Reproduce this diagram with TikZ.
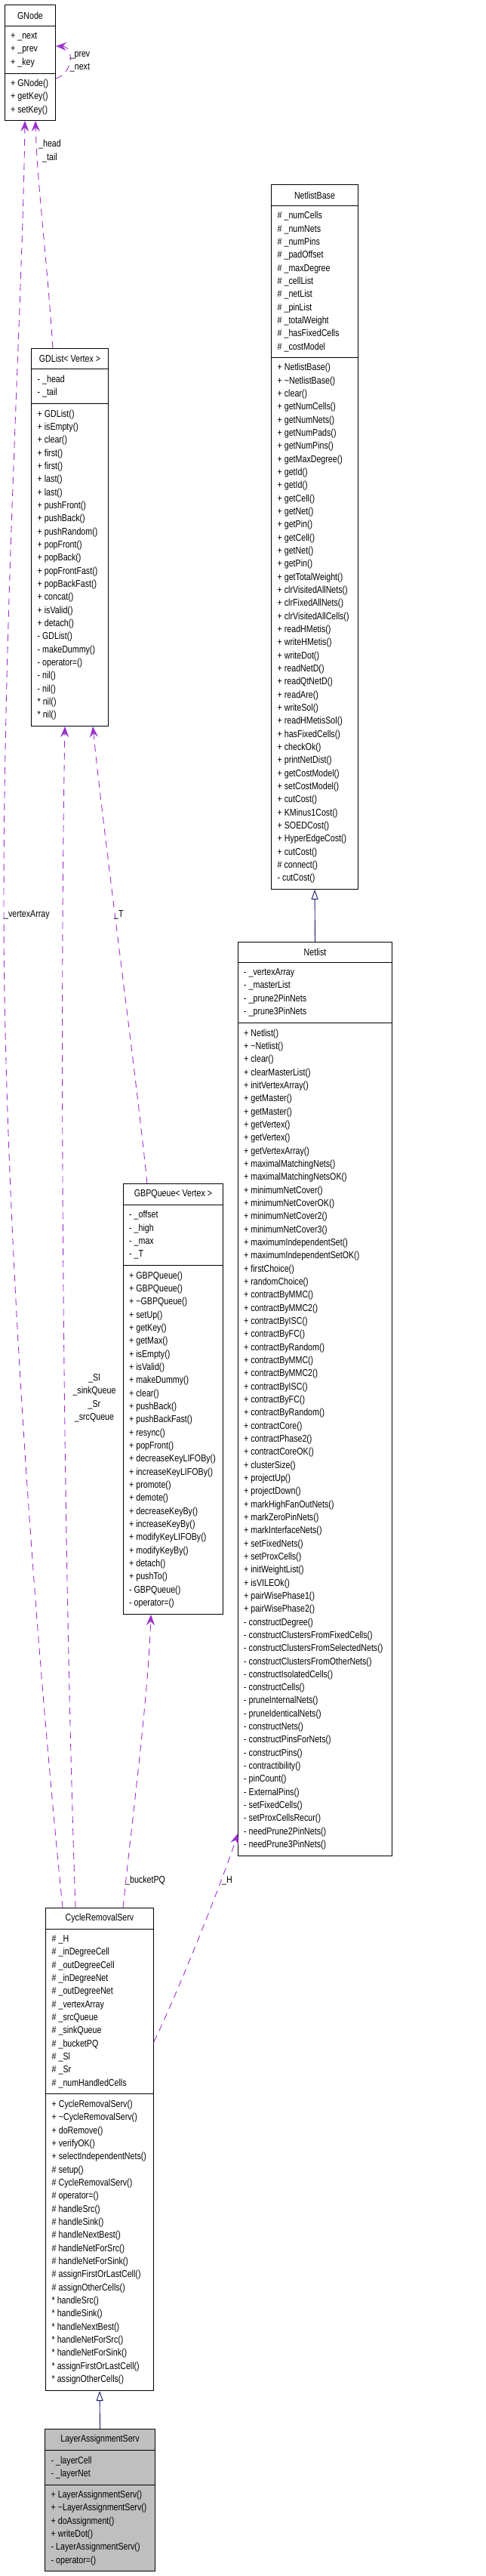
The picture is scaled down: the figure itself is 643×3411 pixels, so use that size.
\documentclass[tikz,border=0pt]{standalone}
\usepackage{fontspec}
\setmainfont{Liberation Sans}[FakeStretch=0.82]
\usetikzlibrary{arrows.meta}
\definecolor{depc}{HTML}{9A32CD}
\definecolor{inhc}{HTML}{191970}
\definecolor{lasfill}{HTML}{BFBFBF}
\newcommand\myfs{\fontsize{13}{17.33}\selectfont}
\tikzset{
  comp/.style={draw=black, line width=1pt, rectangle, inner sep=0pt, anchor=north west},
  txt/.style={inner sep=0pt, align=left, anchor=west, font=\myfs},
  hdr/.style={inner sep=0pt, align=center, anchor=center, font=\myfs},
  elab/.style={inner sep=0pt, align=center, font=\myfs},
  dep/.style={draw=depc, line width=0.9pt, dash pattern=on 9pt off 7pt, -{Stealth[length=14pt, width=11pt, inset=5pt]}},
  inh/.style={draw=inhc, line width=0.9pt, -{Triangle[open, length=13pt, width=9pt]}}
}
\begin{document}
\begin{tikzpicture}[x=1pt, y=-1pt]
\fill[white] (0,0) rectangle (643,3411);
\useasboundingbox (0,0) rectangle (643,3411);

% ---------- GNode ----------
\node[comp, minimum width=67pt, minimum height=28pt] (gn-h) at (6,6) {};
\node[comp, minimum width=67pt, minimum height=63pt] (gn-a) at (6,34) {};
\node[comp, minimum width=67pt, minimum height=62pt] (gn-m) at (6,97) {};
\node[hdr] (gn-ht) at (gn-h.center) {GNode};
\node[txt] (gn-at) at ([xshift=8pt]gn-a.west) {+ \_next\\+ \_prev\\+ \_key};
\node[txt] (gn-mt) at ([xshift=8pt]gn-m.west) {+ GNode()\\+ getKey()\\+ setKey()};

% ---------- GDList ----------
\node[comp, minimum width=102pt, minimum height=27pt] (gd-h) at (41,461) {};
\node[comp, minimum width=102pt, minimum height=46pt] (gd-a) at (41,488) {};
\node[comp, minimum width=102pt, minimum height=427pt] (gd-m) at (41,534) {};
\node[hdr] (gd-ht) at (gd-h.center) {GDList< Vertex >};
\node[txt] (gd-at) at ([xshift=8.5pt]gd-a.west) {- \_head\\- \_tail};
\node[txt] (gd-mt) at ([xshift=8.5pt]gd-m.west) {+ GDList()\\+ isEmpty()\\+ clear()\\+ first()\\+ first()\\+ last()\\+ last()\\+ pushFront()\\+ pushBack()\\+ pushRandom()\\+ popFront()\\+ popBack()\\+ popFrontFast()\\+ popBackFast()\\+ concat()\\+ isValid()\\+ detach()\\- GDList()\\- makeDummy()\\- operator=()\\- nil()\\- nil()\\* nil()\\* nil()};

% ---------- NetlistBase ----------
\node[comp, minimum width=115pt, minimum height=28pt] (nb-h) at (359,244) {};
\node[comp, minimum width=115pt, minimum height=201pt] (nb-a) at (359,272) {};
\node[comp, minimum width=115pt, minimum height=704pt] (nb-m) at (359,473) {};
\node[hdr] (nb-ht) at (nb-h.center) {NetlistBase};
\node[txt] (nb-at) at ([xshift=8.5pt]nb-a.west) {\# \_numCells\\\# \_numNets\\\# \_numPins\\\# \_padOffset\\\# \_maxDegree\\\# \_cellList\\\# \_netList\\\# \_pinList\\\# \_totalWeight\\\# \_hasFixedCells\\\# \_costModel};
\node[txt] (nb-mt) at ([xshift=8.5pt]nb-m.west) {+ NetlistBase()\\+ \textasciitilde NetlistBase()\\+ clear()\\+ getNumCells()\\+ getNumNets()\\+ getNumPads()\\+ getNumPins()\\+ getMaxDegree()\\+ getId()\\+ getId()\\+ getCell()\\+ getNet()\\+ getPin()\\+ getCell()\\+ getNet()\\+ getPin()\\+ getTotalWeight()\\+ clrVisitedAllNets()\\+ clrFixedAllNets()\\+ clrVisitedAllCells()\\+ readHMetis()\\+ writeHMetis()\\+ writeDot()\\+ readNetD()\\+ readQtNetD()\\+ readAre()\\+ writeSol()\\+ readHMetisSol()\\+ hasFixedCells()\\+ checkOk()\\+ printNetDist()\\+ getCostModel()\\+ setCostModel()\\+ cutCost()\\+ KMinus1Cost()\\+ SOEDCost()\\+ HyperEdgeCost()\\+ cutCost()\\\# connect()\\- cutCost()};

% ---------- Netlist ----------
\node[comp, minimum width=204pt, minimum height=27pt] (nl-h) at (315,1247) {};
\node[comp, minimum width=204pt, minimum height=80pt] (nl-a) at (315,1274) {};
\node[comp, minimum width=204pt, minimum height=1103pt] (nl-m) at (315,1354) {};
\node[hdr] (nl-ht) at (nl-h.center) {Netlist};
\node[txt] (nl-at) at ([xshift=8pt]nl-a.west) {- \_vertexArray\\- \_masterList\\- \_prune2PinNets\\- \_prune3PinNets};
\node[txt] (nl-mt) at ([xshift=8pt]nl-m.west) {+ Netlist()\\+ \textasciitilde Netlist()\\+ clear()\\+ clearMasterList()\\+ initVertexArray()\\+ getMaster()\\+ getMaster()\\+ getVertex()\\+ getVertex()\\+ getVertexArray()\\+ maximalMatchingNets()\\+ maximalMatchingNetsOK()\\+ minimumNetCover()\\+ minimumNetCoverOK()\\+ minimumNetCover2()\\+ minimumNetCover3()\\+ maximumIndependentSet()\\+ maximumIndependentSetOK()\\+ firstChoice()\\+ randomChoice()\\+ contractByMMC()\\+ contractByMMC2()\\+ contractByISC()\\+ contractByFC()\\+ contractByRandom()\\+ contractByMMC()\\+ contractByMMC2()\\+ contractByISC()\\+ contractByFC()\\+ contractByRandom()\\+ contractCore()\\+ contractPhase2()\\+ contractCoreOK()\\+ clusterSize()\\+ projectUp()\\+ projectDown()\\+ markHighFanOutNets()\\+ markZeroPinNets()\\+ markInterfaceNets()\\+ setFixedNets()\\+ setProxCells()\\+ initWeightList()\\+ isVILEOk()\\+ pairWisePhase1()\\+ pairWisePhase2()\\- constructDegree()\\- constructClustersFromFixedCells()\\- constructClustersFromSelectedNets()\\- constructClustersFromOtherNets()\\- constructIsolatedCells()\\- constructCells()\\- pruneInternalNets()\\- pruneIdenticalNets()\\- constructNets()\\- constructPinsForNets()\\- constructPins()\\- contractibility()\\- pinCount()\\- ExternalPins()\\- setFixedCells()\\- setProxCellsRecur()\\- needPrune2PinNets()\\- needPrune3PinNets()};

% ---------- GBPQueue ----------
\node[comp, minimum width=132pt, minimum height=28pt] (gq-h) at (163,1567) {};
\node[comp, minimum width=132pt, minimum height=80pt] (gq-a) at (163,1595) {};
\node[comp, minimum width=132pt, minimum height=462pt] (gq-m) at (163,1675) {};
\node[hdr] (gq-ht) at (gq-h.center) {GBPQueue< Vertex >};
\node[txt] (gq-at) at ([xshift=8pt]gq-a.west) {- \_offset\\- \_high\\- \_max\\- \_T};
\node[txt] (gq-mt) at ([xshift=8pt]gq-m.west) {+ GBPQueue()\\+ GBPQueue()\\+ \textasciitilde GBPQueue()\\+ setUp()\\+ getKey()\\+ getMax()\\+ isEmpty()\\+ isValid()\\+ makeDummy()\\+ clear()\\+ pushBack()\\+ pushBackFast()\\+ resync()\\+ popFront()\\+ decreaseKeyLIFOBy()\\+ increaseKeyLIFOBy()\\+ promote()\\+ demote()\\+ decreaseKeyBy()\\+ increaseKeyBy()\\+ modifyKeyLIFOBy()\\+ modifyKeyBy()\\+ detach()\\+ pushTo()\\- GBPQueue()\\- operator=()};

% ---------- CycleRemovalServ ----------
\node[comp, minimum width=143pt, minimum height=28pt] (cr-h) at (60,2526) {};
\node[comp, minimum width=143pt, minimum height=218pt] (cr-a) at (60,2554) {};
\node[comp, minimum width=143pt, minimum height=393pt] (cr-m) at (60,2772) {};
\node[hdr] (cr-ht) at (cr-h.center) {CycleRemovalServ};
\node[txt] (cr-at) at ([xshift=8.5pt]cr-a.west) {\# \_H\\\# \_inDegreeCell\\\# \_outDegreeCell\\\# \_inDegreeNet\\\# \_outDegreeNet\\\# \_vertexArray\\\# \_srcQueue\\\# \_sinkQueue\\\# \_bucketPQ\\\# \_Sl\\\# \_Sr\\\# \_numHandledCells};
\node[txt] (cr-mt) at ([xshift=8.5pt]cr-m.west) {+ CycleRemovalServ()\\+ \textasciitilde CycleRemovalServ()\\+ doRemove()\\+ verifyOK()\\+ selectIndependentNets()\\\# setup()\\\# CycleRemovalServ()\\\# operator=()\\\# handleSrc()\\\# handleSink()\\\# handleNextBest()\\\# handleNetForSrc()\\\# handleNetForSink()\\\# assignFirstOrLastCell()\\\# assignOtherCells()\\* handleSrc()\\* handleSink()\\* handleNextBest()\\* handleNetForSrc()\\* handleNetForSink()\\* assignFirstOrLastCell()\\* assignOtherCells()};

% ---------- LayerAssignmentServ ----------
\node[comp, fill=lasfill, minimum width=146pt, minimum height=28pt] (la-h) at (59,3216) {};
\node[comp, fill=lasfill, minimum width=146pt, minimum height=46pt] (la-a) at (59,3244) {};
\node[comp, fill=lasfill, minimum width=146pt, minimum height=114pt] (la-m) at (59,3290) {};
\node[hdr] (la-ht) at (la-h.center) {LayerAssignmentServ};
\node[txt] (la-at) at ([xshift=8.5pt]la-a.west) {- \_layerCell\\- \_layerNet};
\node[txt] (la-mt) at ([xshift=8.5pt]la-m.west) {+ LayerAssignmentServ()\\+ \textasciitilde LayerAssignmentServ()\\+ doAssignment()\\+ writeDot()\\- LayerAssignmentServ()\\- operator=()};

% ---------- connectors ----------
% GNode self loop
\draw[dep] ([yshift=-7pt]gn-m.north east) .. controls (97,97) and (99,62) .. ([yshift=5pt]gn-a.east);
\node[elab] (lab-pn) at (106,82) {\_prev\\\_next};

% GDList -> GNode
\draw[dep] ([xshift=29pt]gd-h.north west) .. controls (62,340) and (49,240) .. ([xshift=41pt]gn-m.south west);
\node[elab] (lab-ht) at (66,200) {\_head\\\_tail};

% CycleRemovalServ -> GNode
\coordinate (va) at (5,1200);
\draw[dep] ([xshift=23pt]cr-h.north west) .. controls (45,2150) and (5,1600) .. (va) .. controls (5,800) and (30,400) .. ([xshift=27pt]gn-m.south west);
\node[elab, anchor=west] (lab-va) at (5,1211) {\_vertexArray};

% CycleRemovalServ -> GDList
\draw[dep] ([xshift=40pt]cr-h.north west) .. controls (85,2100) and (78,1400) .. ([xshift=45pt]gd-m.south west);
\node[elab] (lab-q) at (125,1851) {\_Sl\\\_sinkQueue\\\_Sr\\\_srcQueue};

% GBPQueue -> GDList
\draw[dep] ([xshift=32pt]gq-h.north west) .. controls (180,1420) and (138,1110) .. ([xshift=82pt]gd-m.south west);
\node[elab, anchor=west] (lab-t) at (151,1211) {\_T};

% CycleRemovalServ -> GBPQueue
\draw[dep] ([xshift=103pt]cr-h.north west) .. controls (176,2400) and (196,2250) .. ([xshift=37pt]gq-m.south west);
\node[elab, anchor=west] (lab-bq) at (166,2490) {\_bucketPQ};

% CycleRemovalServ -> Netlist
\draw[dep] ([yshift=-40pt]cr-a.east) .. controls (235,2640) and (295,2490) .. ([yshift=30pt]nl-m.south west);
\node[elab, anchor=west] (lab-h) at (294,2490) {\_H};

% inheritance
\draw[inh] (nl-h.north) -- (nb-m.south);
\draw[inh] (la-h.north) -- (cr-m.south);
\end{tikzpicture}
\end{document}
